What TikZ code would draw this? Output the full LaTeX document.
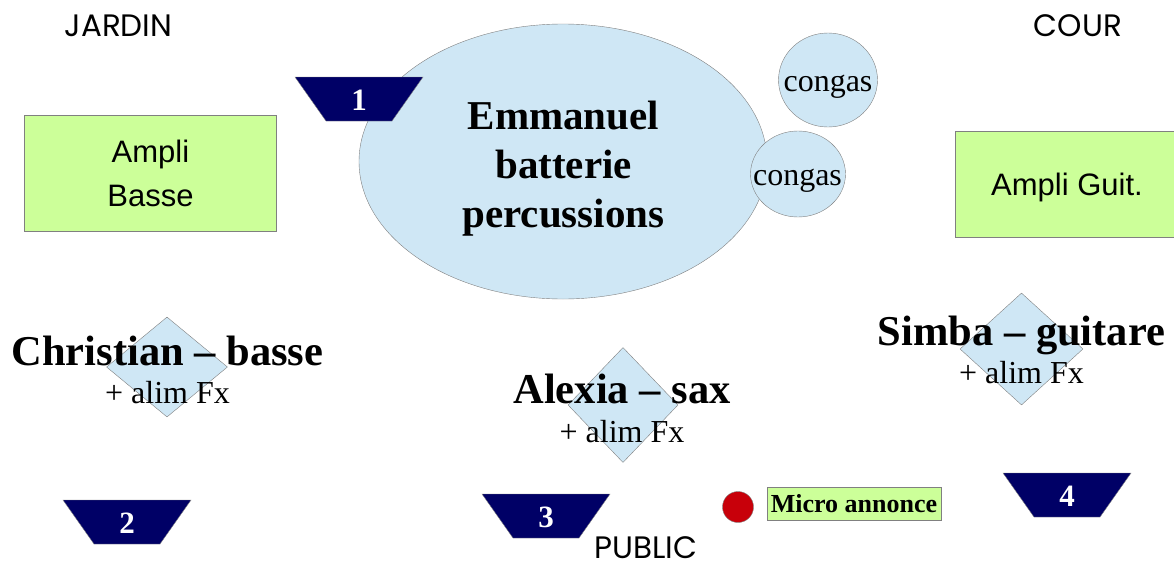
\documentclass[tikz,border=0pt]{standalone}
\usepackage{fontspec}
\setmainfont{Liberation Serif}
\newfontfamily\arialfont{Liberation Sans}
\newfontfamily\sidefont{Poppins}
\usetikzlibrary{shapes.geometric,positioning}
\definecolor{ampgreen}{RGB}{204,255,153}
\definecolor{kitblue}{RGB}{207,231,245}
\definecolor{wedgeblue}{RGB}{0,0,102}
\definecolor{dotred}{RGB}{200,0,10}
\definecolor{edgegray}{RGB}{128,128,128}
\begin{document}
\begin{tikzpicture}[x=1pt,y=-1pt,
        amp/.style={draw=edgegray,fill=ampgreen,inner sep=0pt,align=center,font=\arialfont\fontsize{31}{44}\selectfont},
        kit/.style={ellipse,draw=edgegray,fill=kitblue,inner sep=0pt},
        spot/.style={diamond,draw=edgegray,fill=kitblue,inner sep=0pt},
        who/.style={anchor=base,font=\bfseries\fontsize{42.5}{42.5}\selectfont},
        fx/.style={anchor=base,font=\fontsize{32}{32}\selectfont},
        num/.style={text=white,font=\bfseries\fontsize{31}{31}\selectfont},
        side/.style={inner sep=0pt,font=\sidefont\fontsize{31}{31}\selectfont}]
        \useasboundingbox (0,0) rectangle (1174,565);

        \node[side] (jardin) at (118.5,26) {JARDIN};
        \node[side] (cour) at (1078,26) {COUR};
        \node[side] (public) at (646,547.5) {PUBLIC};

        \node[amp,minimum width=252,minimum height=116] (bassamp) at (150.5,173) {Ampli\\Basse};
        \node[amp,minimum width=224,minimum height=106,text depth=0pt] (guitamp) at (1067,184) {Ampli Guit.};

        \node[kit,minimum width=408,minimum height=275] (drum) at (563,161.5) {};
        \node[align=center,font=\bfseries\fontsize{41}{49}\selectfont] (drumtext) at (563.5,168.5) {Emmanuel\\batterie\\percussions};
        \node[kit,minimum width=99,minimum height=94] (congaA) at (828,80) {};
        \node[font=\fontsize{32}{32}\selectfont] (congaAtext) at (828,87) {congas};
        \node[kit,minimum width=95,minimum height=86] (congaB) at (798,174) {};
        \node[font=\fontsize{32}{32}\selectfont] (congaBtext) at (797.5,181) {congas};

        \foreach \n/\x/\y in {1/359/99,2/127/522,3/546/516,4/1067/495}{
            \draw[edgegray,fill=wedgeblue] (\x-64,\y-22) -- (\x+64,\y-22) -- (\x+33,\y+22) -- (\x-33,\y+22) -- cycle;
            \node[num] (wedge\n) at (\x,\y+1) {\n};
        }

        \node[spot,minimum width=121,minimum height=100] (christianspot) at (167,367) {};
        \node[who] (christian) at (167.5,365) {Christian – basse};
        \node[fx] (christianfx) at ([yshift=-38pt]christian.base) {+ alim Fx};

        \node[spot,minimum width=110,minimum height=115] (alexiaspot) at (623,405) {};
        \node[who] (alexia) at (622,403) {Alexia – sax};
        \node[fx] (alexiafx) at ([yshift=-39pt]alexia.base) {+ alim Fx};

        \node[spot,minimum width=123,minimum height=112] (simbaspot) at (1021.5,349) {};
        \node[who] (simba) at (1021.5,345) {Simba – guitare};
        \node[fx] (simbafx) at ([yshift=-38pt]simba.base) {+ alim Fx};

        \node[circle,draw=edgegray,fill=dotred,minimum size=31,inner sep=0pt] (micdot) at (738,507) {};
        \node[amp,font=\bfseries\fontsize{26}{26}\selectfont,minimum width=174,minimum height=33] (micro) at (854,503.5) {Micro annonce};
    \end{tikzpicture}
\end{document}
